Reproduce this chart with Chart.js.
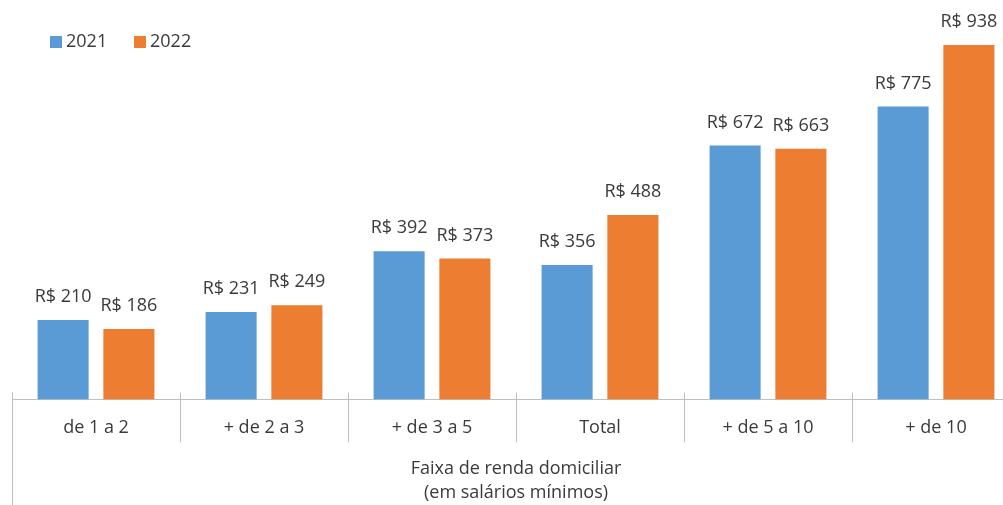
<!DOCTYPE html>
<html>
<head>
<meta charset="utf-8">
<script src="https://cdn.jsdelivr.net/npm/chart.js@4.4.1/dist/chart.umd.min.js"></script>
<style>
    html, body { margin: 0; padding: 0; background: #fff; overflow: hidden; }
    #chartWrap { position: relative; width: 1030px; height: 505px; }
</style>
</head>
<body>
<div id="chartWrap"><canvas id="rendaChart"></canvas></div>
<script>
const categories = ["de 1 a 2", "+ de 2 a 3", "+ de 3 a 5", "Total", "+ de 5 a 10", "+ de 10"];
const values2021 = [210, 231, 392, 356, 672, 775];
const values2022 = [186, 249, 373, 488, 663, 938];
const seriesLabels = ["2021", "2022"];
const axisTitle = ["Faixa de renda domiciliar", "(em salários mínimos)"];

const FONT = "'Open Sans', 'Noto Sans', sans-serif";
const TEXT_COLOR = "#3a3a3a";
const LINE_COLOR = "#bfbfbf";

// value labels above each bar
const barLabels = {
    id: "barLabels",
    afterDatasetsDraw(chart) {
        const ctx = chart.ctx;
        ctx.save();
        ctx.font = "18px " + FONT;
        ctx.fillStyle = TEXT_COLOR;
        ctx.textAlign = "center";
        ctx.textBaseline = "middle";
        chart.data.datasets.forEach((ds, di) => {
            chart.getDatasetMeta(di).data.forEach((bar, i) => {
                ctx.fillText("R$ " + ds.data[i], bar.x, bar.y - 23);
            });
        });
        ctx.restore();
    }
};

// category separators and left edge line
const separators = {
    id: "separators",
    afterDraw(chart) {
        const x = chart.scales.x;
        const ctx = chart.ctx;
        const step = x.width / categories.length;
        ctx.save();
        ctx.strokeStyle = LINE_COLOR;
        ctx.lineWidth = 1;
        for (let i = 0; i < categories.length + 1; i++) {
            const px = Math.round(x.left + i * step) + 0.5;
            ctx.beginPath();
            ctx.moveTo(px, x.top - 7);
            ctx.lineTo(px, i === 0 ? chart.height : x.top + 43);
            ctx.stroke();
        }
        ctx.restore();
    }
};

// legend in the top left corner
const topLegend = {
    id: "topLegend",
    afterDraw(chart) {
        const ctx = chart.ctx;
        ctx.save();
        ctx.font = "18px " + FONT;
        ctx.textBaseline = "middle";
        let cx = 50;
        chart.data.datasets.forEach(ds => {
            ctx.fillStyle = ds.backgroundColor;
            ctx.fillRect(cx, 36, 12, 12);
            ctx.fillStyle = TEXT_COLOR;
            ctx.fillText(ds.label, cx + 16, 42);
            cx += 84;
        });
        ctx.restore();
    }
};

new Chart(document.getElementById("rendaChart").getContext("2d"), {
    type: "bar",
    data: {
        labels: categories,
        datasets: [
            {
                label: seriesLabels[0],
                data: values2021,
                backgroundColor: "#5b9bd5",
                categoryPercentage: 0.783,
                barPercentage: 0.776
            },
            {
                label: seriesLabels[1],
                data: values2022,
                backgroundColor: "#ed7d31",
                categoryPercentage: 0.783,
                barPercentage: 0.776
            }
        ]
    },
    options: {
        responsive: true,
        maintainAspectRatio: false,
        animation: false,
        layout: {
            padding: { top: 21.5, left: 12, right: 10, bottom: 0 }
        },
        plugins: {
            legend: { display: false },
            tooltip: { enabled: false }
        },
        scales: {
            x: {
                grid: { display: false, drawTicks: false },
                border: { display: true, color: LINE_COLOR, width: 1 },
                ticks: {
                    color: TEXT_COLOR,
                    padding: 18,
                    font: { family: FONT, size: 18 }
                },
                title: {
                    display: true,
                    text: axisTitle,
                    color: TEXT_COLOR,
                    padding: { top: 0, bottom: 0 },
                    font: { family: FONT, size: 18, lineHeight: 1.333 }
                }
            },
            y: {
                display: false,
                min: 0,
                max: 1000
            }
        }
    },
    plugins: [barLabels, separators, topLegend]
});
</script>
</body>
</html>
